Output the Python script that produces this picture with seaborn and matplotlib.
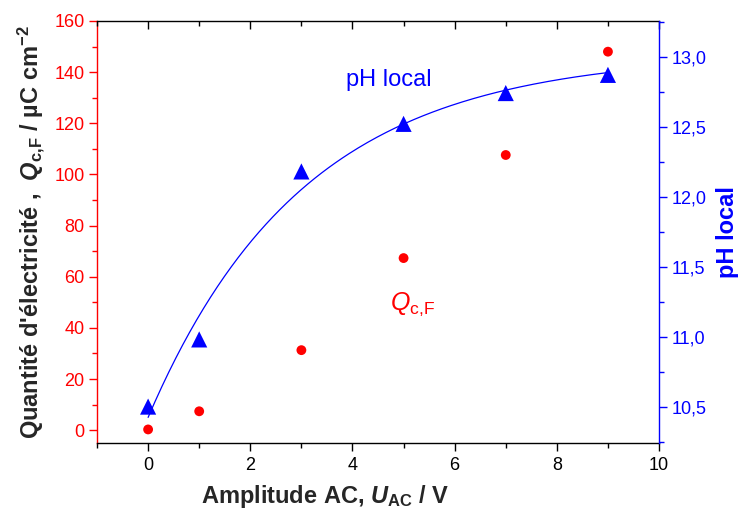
import numpy as np
import pandas as pd
import seaborn as sns
import matplotlib.pyplot as plt
import matplotlib.ticker as mtick

# values
amplitude = [0, 1, 3, 5, 7, 9]
q_cf = [0.3, 7.4, 31.3, 67.3, 107.6, 148.0]
ph_local = [10.50, 10.98, 12.18, 12.52, 12.74, 12.87]

sns.set_style("ticks")
plt.rcParams["font.family"] = ["Liberation Sans", "DejaVu Sans"]
plt.rcParams["mathtext.fontset"] = "custom"
plt.rcParams["mathtext.rm"] = "Liberation Sans"
plt.rcParams["mathtext.it"] = "Liberation Sans:italic"
plt.rcParams["mathtext.bf"] = "Liberation Sans:bold"
plt.rcParams["mathtext.bfit"] = "Liberation Sans:bold:italic"

df = pd.DataFrame({"U": amplitude, "Q": q_cf, "pH": ph_local})

# exponential fit pH = a - b*exp(-c*U), least squares over c
x = np.array(amplitude, dtype=float)
y = np.array(ph_local)
best = None
for c in np.linspace(0.05, 2.0, 800):
    A = np.column_stack([np.ones_like(x), -np.exp(-c * x)])
    coef, res, *_ = np.linalg.lstsq(A, y, rcond=None)
    err = np.sum((A @ coef - y) ** 2)
    if best is None or err < best[0]:
        best = (err, c, coef)
_, c_fit, (a_fit, b_fit) = best
xs = np.linspace(0, 9, 200)
fit = pd.DataFrame({"U": xs, "pH": a_fit - b_fit * np.exp(-c_fit * xs)})

fig = plt.figure(figsize=(7.44, 5.18), dpi=100)
ax1 = fig.add_axes([0.1304, 0.1448, 0.7554, 0.8147])
ax2 = ax1.twinx()

sns.scatterplot(data=df, x="U", y="Q", ax=ax1, color="#ff0000", marker="o",
                s=50, edgecolor="none", legend=False, zorder=3)
sns.lineplot(data=fit, x="U", y="pH", ax=ax2, color="#0000ff", linewidth=0.9,
             legend=False)
sns.scatterplot(data=df, x="U", y="pH", ax=ax2, color="#0000ff", marker="^",
                s=135, edgecolor="none", legend=False, zorder=3)

ax1.set_xlim(-1, 10)
ax1.set_ylim(-5, 160)
ax2.set_ylim(10.24, 13.255)

ax1.xaxis.set_major_locator(mtick.MultipleLocator(2))
ax1.xaxis.set_minor_locator(mtick.MultipleLocator(1))
ax1.yaxis.set_major_locator(mtick.MultipleLocator(20))
ax1.yaxis.set_minor_locator(mtick.MultipleLocator(10))
ax2.yaxis.set_major_locator(mtick.MultipleLocator(0.5))
ax2.yaxis.set_minor_locator(mtick.MultipleLocator(0.25))
ax2.yaxis.set_major_formatter(
    mtick.FuncFormatter(lambda v, p: f"{v:.1f}".replace(".", ",")))

for side in ["left", "right", "top", "bottom"]:
    ax1.spines[side].set_linewidth(1.0)
    ax2.spines[side].set_linewidth(1.0)
ax1.spines["left"].set_color("#ff0000")
ax1.spines["right"].set_visible(False)
ax1.spines["top"].set_color("black")
ax1.spines["bottom"].set_color("black")
ax2.spines["right"].set_color("#0000ff")
ax2.spines["left"].set_visible(False)
ax2.spines["top"].set_visible(False)
ax2.spines["bottom"].set_visible(False)

ax1.tick_params(axis="x", which="major", direction="out", length=6, width=1,
                color="black", labelsize=13, labelcolor="black", pad=4)
ax1.tick_params(axis="x", which="minor", direction="out", length=3.5, width=1,
                color="black")
ax1.tick_params(axis="y", which="major", direction="out", length=6, width=1,
                color="#ff0000", labelsize=13, labelcolor="#ff0000", pad=3)
ax1.tick_params(axis="y", which="minor", direction="out", length=3.5, width=1,
                color="#ff0000")
ax2.tick_params(axis="y", which="major", direction="out", length=6, width=1,
                color="#0000ff", labelsize=13, labelcolor="#0000ff", pad=3)
ax2.tick_params(axis="y", which="minor", direction="out", length=3.5, width=1,
                color="#0000ff")

# inward ticks along the top edge, without labels
ax2.xaxis.set_visible(True)
ax2.set_xlabel("")
ax2.xaxis.set_major_locator(mtick.MultipleLocator(2))
ax2.xaxis.set_minor_locator(mtick.MultipleLocator(1))
ax2.tick_params(axis="x", which="both", top=True, bottom=False,
                labeltop=False, labelbottom=False, direction="in",
                color="black", width=1)
ax2.tick_params(axis="x", which="major", length=6)
ax2.tick_params(axis="x", which="minor", length=3.5)

ax1.set_xlabel(r"Amplitude AC, $\mathbfit{U}_{\mathbf{AC}}$ / V",
               fontsize=17, fontweight="bold")
ax1.xaxis.set_label_coords(0.406, -0.095)
ax1.set_ylabel(r"Quantité d'électricité ,  $\mathbfit{Q}_{\mathbf{c{,}F}}$ / µC cm$^{\mathbf{-2}}$",
               fontsize=17, fontweight="bold", labelpad=5)
ax2.set_ylabel("pH local", fontsize=17, fontweight="bold", color="#0000ff",
               labelpad=7)

ax1.text(3.87, 134.6, "pH local", color="#0000ff", fontsize=17,
         ha="left", va="baseline")
ax1.text(4.74, 47, r"$\mathit{Q}_{\mathrm{c{,}F}}$", color="#ff0000",
         fontsize=18, ha="left", va="baseline")

fig.savefig("out.png", dpi=100)
